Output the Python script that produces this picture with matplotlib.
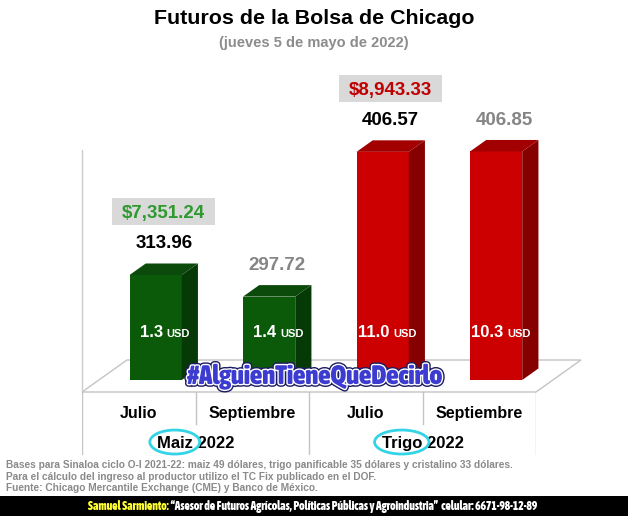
import matplotlib
matplotlib.use("Agg")
import matplotlib.pyplot as plt
import matplotlib.patheffects as pe
from matplotlib import font_manager
from matplotlib.patches import Polygon, Rectangle, Ellipse
from matplotlib.transforms import blended_transform_factory, IdentityTransform

# ---- data ----
months = ["Julio", "Septiembre", "Julio", "Septiembre"]
crops = ["Maiz", "Trigo"]
year = "2022"
prices = [313.96, 297.72, 406.57, 406.85]
usd_change = ["1.3", "1.4", "11.0", "10.3"]
income = ["$7,351.24", "$8,943.33"]

title = "Futuros de la Bolsa de Chicago"
subtitle = "(jueves 5 de mayo de 2022)"
hashtag = "#AlguienTieneQueDecirlo"
notes = [
    "Bases para Sinaloa ciclo O-I 2021-22: maiz 49 dólares, trigo panificable 35 dólares y cristalino 33 dólares.",
    "Para el cálculo del ingreso al productor utilizo el TC Fix publicado en el DOF.",
    "Fuente: Chicago Mercantile Exchange (CME) y Banco de México.",
]
author = "Samuel Sarmiento:"
author_note = " \u201cAsesor de Futuros Agrícolas, Políticas Públicas y Agroindustria\u201d  celular: 6671-98-12-89"

W, H = 628, 521
palette = [("#0a5a0a", "#053905", "#0c4a0c"), ("#cc0000", "#860000", "#a20000")]
income_colors = ["#2e9a2e", "#c00000"]
value_colors = ["black", "#858585"]


def has_font(name):
    try:
        font_manager.findfont(font_manager.FontProperties(family=name),
                              fallback_to_default=False)
        return True
    except ValueError:
        return False


def narrow_font(size):
    # any condensed / narrow face that happens to be installed, upright bold first
    squeezed = ("condensed", "semi-condensed", "extra-condensed", "ultra-condensed")
    found = [f for f in font_manager.fontManager.ttflist
             if f.stretch in squeezed or "Narrow" in f.name or "Condensed" in f.name]
    found.sort(key=lambda f: (f.style != "normal",
                              str(f.weight) not in ("bold", "700", "800", "900"),
                              f.name))
    if found:
        return font_manager.FontProperties(fname=found[0].fname, size=size)
    return font_manager.FontProperties(family=SANS, weight="bold", size=size)


SANS = "Liberation Sans" if has_font("Liberation Sans") else "DejaVu Sans"
plt.rcParams["font.family"] = [SANS, "DejaVu Sans"]


def fit_width(texts, target_px, renderer):
    width = sum(t.get_window_extent(renderer).width for t in texts)
    for t in texts:
        t.set_fontsize(t.get_fontsize() * target_px / width)


fig = plt.figure(figsize=(W / 100, H / 100), dpi=100)
fig.patch.set_facecolor("white")

# main plotting area: x = contract slot, y = price
ax = fig.add_axes([82 / W, 1 - 392 / H, 454 / W, 262 / H])
ax.set_xlim(-0.5, len(prices) - 0.5)
ax.set_ylim(226, 423)
ax.axis("off")

x_left, x_right = ax.get_xlim()
y0 = ax.get_ylim()[0]
sx = (x_right - x_left) / 454
sy = (ax.get_ylim()[1] - y0) / 262
depth_x, depth_y = 45 * sx, 32 * sy

floor = Polygon([(x_left, y0), (x_right, y0),
                 (x_right + depth_x, y0 + depth_y), (x_left + depth_x, y0 + depth_y)],
                closed=True, fc="white", ec="#c4c4c4", lw=1, clip_on=False, zorder=1)
ax.add_patch(floor)
ax.plot([x_left, x_left], [y0, 408], color="#cccccc", lw=1, clip_on=False, zorder=1)

bar_w, bar_f, bar_d = 0.46, 0.375, 0.36
inner = blended_transform_factory(ax.transData, ax.transAxes)
income_anchor = []
for i, price in enumerate(prices):
    k = i // 2
    front, side, top = palette[k]
    x0 = i - bar_w / 2 + bar_f * depth_x
    x1 = x0 + bar_w
    yb = y0 + bar_f * depth_y
    dx, dy = bar_d * depth_x, bar_d * depth_y
    ax.add_patch(Rectangle((x0, yb), bar_w, price - yb, fc=front, ec="none",
                           zorder=3, clip_on=False))
    ax.add_patch(Polygon([(x1, yb), (x1 + dx, yb + dy), (x1 + dx, price + dy), (x1, price)],
                         fc=side, ec="none", zorder=3, clip_on=False))
    ax.add_patch(Polygon([(x0, price), (x1, price), (x1 + dx, price + dy), (x0 + dx, price + dy)],
                         fc=top, ec="none", zorder=3, clip_on=False))
    xc = (x0 + x1 + dx) / 2
    ax.annotate(f"{price:.2f}", (xc, price + dy), xytext=(0, 15),
                textcoords="offset pixels", ha="center", va="baseline",
                fontsize=13.5, fontweight="bold", color=value_colors[i % 2],
                annotation_clip=False)
    ax.annotate(usd_change[i], (xc, 0.21), xycoords=inner, xytext=(-1, 0),
                textcoords="offset pixels", ha="right", va="baseline",
                fontsize=12, fontweight="bold", color="white", zorder=5)
    ax.annotate("USD", (xc, 0.21), xycoords=inner, xytext=(3, 0),
                textcoords="offset pixels", ha="left", va="baseline",
                fontsize=8, fontweight="bold", color="white", zorder=5)
    if i % 2 == 0:
        t = ax.annotate(income[k], (xc, price + dy), xytext=(0, 45),
                        textcoords="offset pixels", ha="center", va="baseline",
                        fontsize=13.5, fontweight="bold", color=income_colors[k],
                        annotation_clip=False, zorder=6)
        income_anchor.append((t, xc, price + dy))

# category axis under the floor
ax_lab = fig.add_axes([82 / W, 1 - 455 / H, 454 / W, 63 / H])
ax_lab.set_xlim(ax.get_xlim())
ax_lab.set_ylim(0, 1)
ax_lab.axis("off")
for b in range(len(prices) + 1):
    edge = b - 0.5
    low = 0 if b % 2 == 0 else 0.5
    ax_lab.plot([edge, edge], [low, 1], color="#c4c4c4", lw=1)
for i, m in enumerate(months):
    ax_lab.text(i, 0.66, m, ha="center", va="center", fontsize=11.5, fontweight="bold")
group_texts = []
for k, c in enumerate(crops):
    t = ax_lab.text(2 * k + 0.5, 0.19, f"{c} {year}", ha="center", va="center",
                    fontsize=12, fontweight="bold")
    group_texts.append((t, c))

fig.text(0.5, 1 - 18 / H, title, ha="center", va="center", fontsize=15.4, fontweight="bold")
fig.text(0.5, 1 - 43 / H, subtitle, ha="center", va="center", fontsize=10.5,
         fontweight="bold", color="#8c8c8c")

tag = fig.text(0.5, 1 - 377 / H, hashtag, ha="center", va="center",
               fontproperties=narrow_font(20), color="#3c3cd0", zorder=10,
               path_effects=[pe.Stroke(linewidth=4, foreground="#1c1c60"),
                             pe.Stroke(linewidth=2, foreground="white"), pe.Normal()])

note_texts = [fig.text(6 / W, 1 - y / H, n, ha="left", va="baseline", fontsize=7,
                       fontweight="bold", color="#8a8a8a")
              for n, y in zip(notes, [468, 480, 491])]

fig.add_artist(Rectangle((0, 1 - 516 / H), 1, 20 / H, transform=fig.transFigure,
                         fc="black", ec="none", zorder=1))
a1 = fig.text(88 / W, 1 - 510 / H, author, ha="left", va="baseline",
              fontproperties=narrow_font(8), color="#ffff33", zorder=2)
a2 = fig.text(88 / W, 1 - 510 / H, author_note, ha="left", va="baseline",
              fontproperties=narrow_font(8), color="white", zorder=2)

fig.canvas.draw()
renderer = fig.canvas.get_renderer()
fit_width([tag], 255, renderer)
fit_width([a1, a2], 452, renderer)
size = note_texts[0].get_fontsize() * 506 / note_texts[0].get_window_extent(renderer).width
for t in note_texts:
    t.set_fontsize(size)
fig.canvas.draw()
a2.set_position((a1.get_window_extent(renderer).x1 / W, 1 - 510 / H))

# grey boxes behind the income figures
for t, xc, ytop in income_anchor:
    bb = t.get_window_extent(renderer)
    base = ax.transData.transform((xc, ytop))[1] + 45
    cap = 0.716 * t.get_fontsize() * fig.dpi / 72
    ax.add_patch(Rectangle((bb.x0 - 10, base - 7), bb.width + 20, cap + 14,
                           transform=IdentityTransform(), fc="#d9d9d9", ec="none",
                           zorder=5, clip_on=False))

# cyan rings around the crop names
for t, c in group_texts:
    bb = t.get_window_extent(renderer)
    probe = fig.text(0, 0, c, fontsize=t.get_fontsize(), fontweight="bold")
    wname = probe.get_window_extent(renderer).width
    probe.remove()
    fig.add_artist(Ellipse((bb.x0 + wname / 2, (bb.y0 + bb.y1) / 2 + 1), wname + 14, 24,
                           transform=IdentityTransform(), fc="none", ec="#33d4e6", lw=2))

fig.savefig("out.png", dpi=100, facecolor="white")
